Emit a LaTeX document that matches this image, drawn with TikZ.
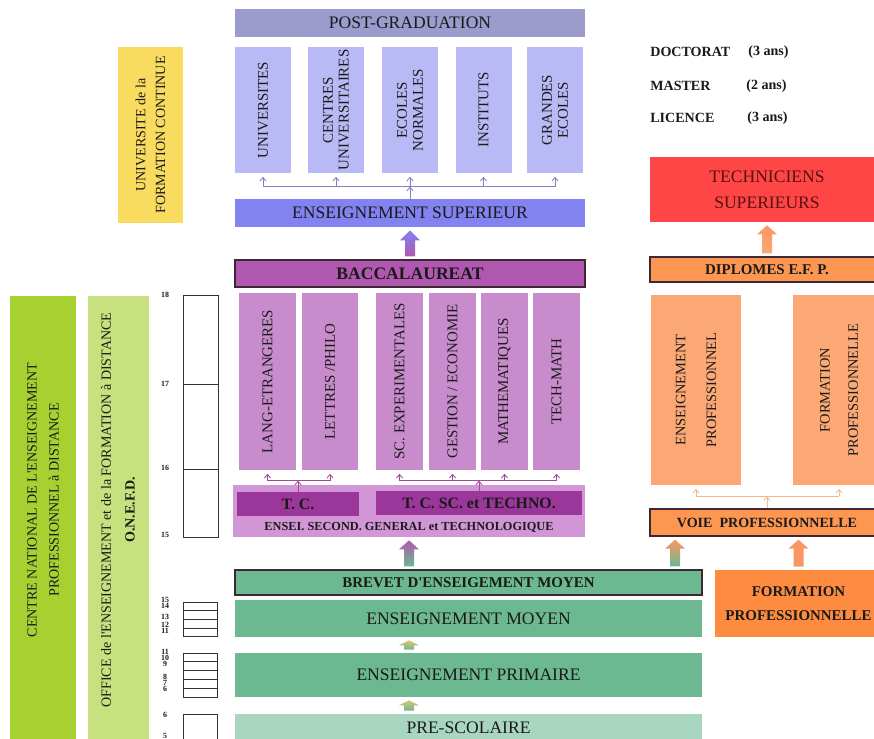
\documentclass[tikz,border=0pt]{standalone}
\usepackage{fontspec}
\setmainfont{Liberation Serif}
\usetikzlibrary{arrows.meta, positioning, calc}
\definecolor{TextDark}{RGB}{26,26,26}
\definecolor{TextRed}{RGB}{90,16,16}
\definecolor{FrameDark}{RGB}{60,40,50}
\definecolor{PostGrad}{RGB}{155,155,205}
\definecolor{UnivCol}{RGB}{185,185,245}
\definecolor{SupBlue}{RGB}{130,130,240}
\definecolor{BlueLine}{RGB}{130,130,195}
\definecolor{BacPurple}{RGB}{176,88,176}
\definecolor{BacCol}{RGB}{200,140,205}
\definecolor{SecondLight}{RGB}{210,150,215}
\definecolor{TcDark}{RGB}{155,55,155}
\definecolor{PurpleLine}{RGB}{160,72,160}
\definecolor{GreenMid}{RGB}{108,184,144}
\definecolor{GreenLight}{RGB}{168,214,192}
\definecolor{ArrowYellow}{RGB}{222,196,120}
\definecolor{RedTech}{RGB}{255,70,70}
\definecolor{OrangeDipl}{RGB}{253,150,80}
\definecolor{OrangeCol}{RGB}{251,168,116}
\definecolor{OrangeForm}{RGB}{253,140,65}
\definecolor{OrangeArrow}{RGB}{250,150,100}
\definecolor{OrangeLine}{RGB}{244,184,140}
\definecolor{YellowUfc}{RGB}{249,220,95}
\definecolor{GreenCnepd}{RGB}{166,209,48}
\definecolor{GreenOnefd}{RGB}{198,225,125}

\tikzset{
  bar/.style={rectangle, inner sep=0pt, text=TextDark, font=\fontsize{10}{12}\selectfont},
  framed/.style={draw=FrameDark, line width=0.7pt},
  vcol/.style={rectangle, inner sep=0pt, rotate=90, align=center, text=TextDark,
    font=\fontsize{8.5}{10}\selectfont},
  info/.style={anchor=west, inner sep=0pt, text=TextDark, font=\fontsize{8}{9}\selectfont\bfseries},
  yearlbl/.style={inner sep=0pt, text=TextDark, font=\fontsize{4.5}{4.5}\selectfont\bfseries},
  scalebox/.style={draw=black!80, line width=0.5pt},
  tip/.style={-{Straight Barb[length=2pt,width=3.5pt]}},
}

\begin{document}
\begin{tikzpicture}[x=0.02cm, y=-0.02cm]
  \useasboundingbox (0,0) rectangle (874,739);
  % Higher education
  \node[bar, fill=PostGrad, minimum width=7cm, minimum height=0.56cm] (pg) at (410,23) {POST-GRADUATION};
  \foreach \n/\x/\t in {u1/263/UNIVERSITES, u2/336/{CENTRES\\UNIVERSITAIRES},
      u3/410/{ECOLES\\NORMALES}, u4/483.5/INSTITUTS, u5/555/{GRANDES\\ECOLES}}{
    \node[vcol, fill=UnivCol, minimum width=2.52cm, minimum height=1.12cm,
      font=\fontsize{8.5}{9}\selectfont] (\n) at (\x,110) {\t};}
  \node[bar, fill=SupBlue, minimum width=7cm, minimum height=0.56cm] (sup) at (410,213) {ENSEIGNEMENT SUPERIEUR};
  \coordinate (supJ) at ($(sup.north)+(0,-12)$);
  \draw[BlueLine, line width=0.5pt, tip] (sup.north) -- (supJ);
  \draw[BlueLine, line width=0.5pt] (supJ -| u1) -- (supJ -| u5);
  \foreach \n in {u1,u2,u3,u4,u5}{
    \draw[BlueLine, line width=0.5pt, tip, shorten >=2pt] (supJ -| \n) -- (\n.west);}

  % Secondary
  \node[bar, framed, fill=BacPurple, minimum width=7cm, minimum height=0.54cm,
    font=\fontsize{10}{12}\selectfont\bfseries] (bac) at (410,273.5) {BACCALAUREAT};
  \foreach \n/\x/\w/\t in {b1/267.5/1.14cm/LANG-ETRANGERES, b2/330/1.12cm/{LETTRES /PHILO},
      b3/399.5/0.94cm/SC. EXPERIMENTALES, b4/452.5/0.94cm/{GESTION / ECONOMIE},
      b5/504.5/0.94cm/MATHEMATIQUES, b6/556.5/0.94cm/TECH-MATH}{
    \node[vcol, fill=BacCol, minimum width=3.54cm, minimum height=\w] (\n) at (\x,381.5) {\t};}
  \node[rectangle, fill=SecondLight, minimum width=7.04cm, minimum height=1.04cm] (ensec) at (409,511) {};
  \node[bar, fill=TcDark, minimum width=2.44cm, minimum height=0.48cm,
    font=\fontsize{9}{10}\selectfont\bfseries] (tc) at (298,504) {T. C.};
  \node[bar, fill=TcDark, minimum width=4.12cm, minimum height=0.48cm,
    font=\fontsize{9}{10}\selectfont\bfseries] (tcsc) at (479,503) {T. C. SC. et TECHNO.};
  \node[bar, font=\fontsize{7}{8}\selectfont\bfseries] (ensecT) at (409,527)
    {ENSEI. SECOND. GENERAL et TECHNOLOGIQUE};
  \coordinate (tcJ) at ($(tc.north)+(0,-11)$);
  \draw[PurpleLine, line width=0.5pt, tip] (tc.north) -- (tcJ);
  \draw[PurpleLine, line width=0.5pt] (tcJ -| b1) -- (tcJ -| b2);
  \foreach \n in {b1,b2}{
    \draw[PurpleLine, line width=0.5pt, tip, shorten >=2pt] (tcJ -| \n) -- (\n.west);}
  \coordinate (tcscJ) at ($(tcsc.north)+(0,-10)$);
  \draw[PurpleLine, line width=0.5pt, tip] (tcsc.north) -- (tcscJ);
  \draw[PurpleLine, line width=0.5pt] (tcscJ -| b3) -- (tcscJ -| b6);
  \foreach \n in {b3,b4,b5,b6}{
    \draw[PurpleLine, line width=0.5pt, tip, shorten >=2pt] (tcscJ -| \n) -- (\n.west);}

  % Fundamental
  \node[bar, framed, fill=GreenMid, minimum width=9.34cm, minimum height=0.5cm,
    font=\fontsize{8.5}{10}\selectfont\bfseries] (brevet) at (468.5,582.5) {BREVET D\textquotesingle ENSEIGEMENT MOYEN};
  \node[bar, fill=GreenMid, minimum width=9.34cm, minimum height=0.74cm] (moyen) at (468.5,618.5) {ENSEIGNEMENT MOYEN};
  \node[bar, fill=GreenMid, minimum width=9.34cm, minimum height=0.88cm] (primaire) at (468.5,675) {ENSEIGNEMENT PRIMAIRE};
  \node[bar, fill=GreenLight, minimum width=9.34cm, minimum height=0.56cm] (presco) at (468.5,728) {PRE-SCOLAIRE};

  % Vocational side
  \node[info] (doc) at (650,52) {DOCTORAT};
  \node[info] (docY) at (748,52) {(3 ans)};
  \node[info] (mas) at (650,86) {MASTER};
  \node[info] (masY) at (746,86) {(2 ans)};
  \node[info] (lic) at (650,118) {LICENCE};
  \node[info] (licY) at (747,118) {(3 ans)};
  \node[bar, fill=RedTech, text=TextRed, align=center, minimum width=4.68cm, minimum height=1.3cm,
    font=\fontsize{10}{15}\selectfont] (tech) at (767,189.5) {TECHNICIENS\\SUPERIEURS};
  \node[bar, framed, fill=OrangeDipl, minimum width=4.68cm, minimum height=0.5cm,
    font=\fontsize{8.5}{10}\selectfont\bfseries] (dipl) at (767,269.5) {DIPLOMES E.F. P.};
  \node[vcol, fill=OrangeCol, minimum width=3.8cm, minimum height=1.8cm,
    font=\fontsize{8.2}{17.6}\selectfont] (ep) at (696,390) {ENSEIGNEMENT\\PROFESSIONNEL};
  \node[vcol, fill=OrangeCol, minimum width=3.8cm, minimum height=1.84cm,
    font=\fontsize{8.2}{16}\selectfont] (fp) at (839,390) {FORMATION\\PROFESSIONNELLE};
  \node[bar, framed, fill=OrangeDipl, minimum width=4.68cm, minimum height=0.54cm,
    font=\fontsize{8}{10}\selectfont\bfseries] (voie) at (767,522.5) {VOIE\ \ PROFESSIONNELLE};
  \coordinate (voieJ) at ($(voie.north)+(0,-12)$);
  \draw[OrangeLine, line width=0.5pt, tip] (voie.north) -- (voieJ);
  \draw[OrangeLine, line width=0.5pt] (voieJ -| ep) -- (voieJ -| fp);
  \foreach \n in {ep,fp}{
    \draw[OrangeLine, line width=0.5pt, tip, shorten >=2pt] (voieJ -| \n) -- (\n.west);}
  \node[bar, fill=OrangeForm, align=center, minimum width=3.34cm, minimum height=1.34cm,
    font=\fontsize{8.5}{14}\selectfont\bfseries] (formprof) at (798.5,603.5) {FORMATION\\PROFESSIONNELLE};

  % Block arrows
  \coordinate (xbv) at (675,0);
  \foreach \c/\s/\t/\gb/\gt/\h in {bac/bac/sup/BacPurple/SupBlue/10,
      ensec/brevet/ensec/GreenMid/BacPurple/9, ensec/primaire/moyen/GreenMid/ArrowYellow/5,
      ensec/presco/primaire/GreenMid/ArrowYellow/5, dipl/dipl/tech/OrangeCol/OrangeArrow/9,
      xbv/brevet/voie/GreenMid/OrangeArrow/9, formprof/formprof/voie/OrangeArrow/OrangeArrow/9}{
    \shade[bottom color=\gb, top color=\gt]
      ($(\c |- \s.north)+(-5,-3)$) -- ($(\c |- \t.south)+(-5,3+\h)$)
      -- ($(\c |- \t.south)+(-10,3+\h)$) -- ($(\c |- \t.south)+(0,3)$)
      -- ($(\c |- \t.south)+(10,3+\h)$) -- ($(\c |- \t.south)+(5,3+\h)$)
      -- ($(\c |- \s.north)+(5,-3)$) -- cycle;}

  % Left side
  \node[vcol, fill=YellowUfc, minimum width=3.52cm, minimum height=1.3cm,
    font=\fontsize{8}{11.3}\selectfont] (ufc) at (150.5,135) {UNIVERSITE de la\\FORMATION CONTINUE};
  \node[rectangle, fill=GreenCnepd, minimum width=1.32cm, minimum height=8.98cm] (cnepd) at (43,520.5) {};
  \node[vcol, font=\fontsize{8}{12.5}\selectfont] (cnepdT) at (43,500)
    {CENTRE NATIONAL DE L\textquotesingle ENSEIGNEMENT\\PROFESSIONNEL à DISTANCE};
  \node[rectangle, fill=GreenOnefd, minimum width=1.22cm, minimum height=8.98cm] (onefd) at (118.5,520.5) {};
  \node[vcol, font=\fontsize{8}{13.6}\selectfont] (onefdT) at (118,510)
    {OFFICE de l\textquotesingle ENSEIGNEMENT et de la FORMATION à DISTANCE\\\textbf{O.N.E.F.D.}};

  % Age scale
  \draw[scalebox] (183,295) rectangle (218,537);
  \foreach \y in {384,469} \draw[scalebox] (183,\y) -- (218,\y);
  \draw[scalebox] (183,602) rectangle (217,636);
  \foreach \y in {610,619,628} \draw[scalebox] (183,\y) -- (217,\y);
  \draw[scalebox] (183,653) rectangle (217,697);
  \foreach \y in {661,670,679,688} \draw[scalebox] (183,\y) -- (217,\y);
  \draw[scalebox] (183,714) rectangle (217,745);
  \foreach \y/\t [count=\i] in {295/18,384/17,468/16,535/15}
    \node[yearlbl] (hy\i) at (165,\y) {\t};
  \foreach \y/\t [count=\i] in {599.5/15,606/14,617/13,625/12,631/11}
    \node[yearlbl] (my\i) at (165,\y) {\t};
  \foreach \y/\t [count=\i] in {652/11,658/10,664/9,677/8,683/7,689/6}
    \node[yearlbl] (py\i) at (165,\y) {\t};
  \foreach \y/\t [count=\i] in {715/6,736/5}
    \node[yearlbl] (ky\i) at (165,\y) {\t};
\end{tikzpicture}
\end{document}
